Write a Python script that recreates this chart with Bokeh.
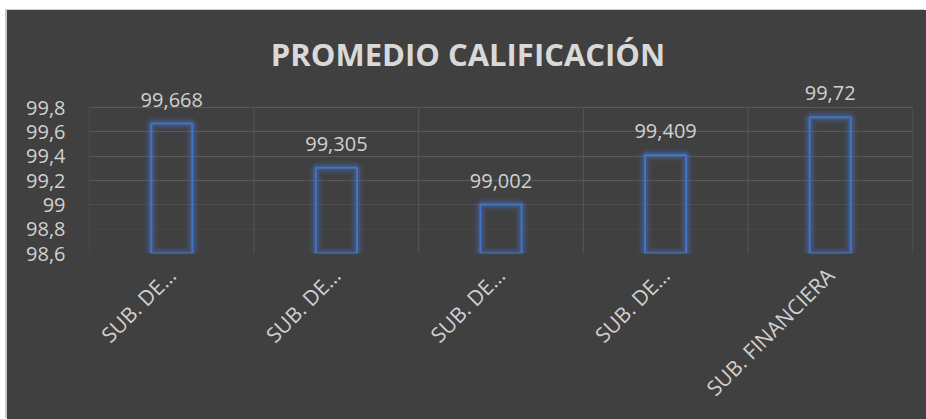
import numpy as np
from bokeh.plotting import figure
from bokeh.models import Range1d, FixedTicker, ColumnDataSource, LabelSet, Label, Grid
from bokeh.core.properties import value
from bokeh.embed import file_html
from bokeh.resources import INLINE

# ---- data ----
categories = ["SUB. DE…", "SUB. DE…", "SUB. DE…", "SUB. DE…", "SUB. FINANCIERA"]
values = [99.668, 99.305, 99.002, 99.409, 99.72]
value_labels = ["99,668", "99,305", "99,002", "99,409", "99,72"]
y_ticks = [98.6, 98.8, 99.0, 99.2, 99.4, 99.6, 99.8]
y_tick_labels = ["98,6", "98,8", "99", "99,2", "99,4", "99,6", "99,8"]
title_text = "PROMEDIO CALIFICACIÓN"

n = len(categories)
positions = list(range(1, n + 1))
y_min, y_max = y_ticks[0], y_ticks[-1]

BG = "#404040"
TXT = "#d0d0d0"
BLUE = "#4472c4"
FONT = "Open Sans"

# layout (pixels)
W, H = 919, 409
GRID_PX = 146          # height of the value grid (98.6 .. 99.8)
BORDER_BOTTOM = 166
frame_px = H - BORDER_BOTTOM
y_end = y_min + (y_max - y_min) * frame_px / GRID_PX

p = figure(width=W, height=H, output_backend="svg", toolbar_location=None,
           x_range=Range1d(0.5, n + 0.5), y_range=Range1d(y_min, y_end),
           min_border_left=82, min_border_right=14, min_border_top=0,
           min_border_bottom=BORDER_BOTTOM)
p.margin = (10, 0, 0, 7)
p.styles = {"box-shadow": "-2px -1px 0 #c8c8c8", "background-color": BG}
p.background_fill_color = BG
p.border_fill_color = BG
p.outline_line_color = None

# vertical grid lines between categories (only across the value grid)
bounds = [pos - 0.5 for pos in positions] + [n + 0.5]
p.segment(x0=bounds, x1=bounds, y0=[y_min] * len(bounds), y1=[y_max] * len(bounds),
          line_color="#575757", line_width=1)

src = ColumnDataSource(dict(x=positions, top=values, label=value_labels))

# glow layers
for lw, a in [(14, 0.08), (10, 0.14), (6, 0.25)]:
    p.vbar(x="x", top="top", bottom=y_min, width=0.25, source=src,
           fill_alpha=0, line_color=BLUE, line_alpha=a, line_width=lw)
p.vbar(x="x", top="top", bottom=y_min, width=0.25, source=src,
       fill_alpha=0, line_color=BLUE, line_width=2)

labels = LabelSet(x="x", y="top", text="label", source=src, text_align="center",
                  text_baseline="alphabetic", y_offset=17, text_color=TXT,
                  text_font=value(FONT), text_font_size="20px")
p.add_layout(labels)

# axes
p.xaxis.ticker = FixedTicker(ticks=positions)
p.xaxis.major_label_overrides = {pos: lab for pos, lab in zip(positions, categories)}
p.xaxis.major_label_orientation = np.pi / 4
p.xaxis.major_label_text_font = FONT
p.xaxis.major_label_text_font_size = "21px"
p.xaxis.major_label_text_color = TXT
p.xaxis.major_label_standoff = 12
p.xaxis.axis_line_color = None
p.xaxis.major_tick_line_color = None
p.xaxis.minor_tick_line_color = None

p.yaxis.ticker = FixedTicker(ticks=y_ticks)
p.yaxis.major_label_overrides = {t: lab for t, lab in zip(y_ticks, y_tick_labels)}
p.yaxis.major_label_text_font = FONT
p.yaxis.major_label_text_font_size = "20px"
p.yaxis.major_label_text_color = TXT
p.yaxis.major_label_standoff = 18
p.yaxis.axis_line_color = None
p.yaxis.major_tick_line_color = None
p.yaxis.minor_tick_line_color = None

# grids
p.xgrid.grid_line_color = None
p.ygrid.ticker = FixedTicker(ticks=y_ticks[3:])
p.ygrid.grid_line_color = "#595959"
g2 = Grid(dimension=1, ticker=FixedTicker(ticks=[y_ticks[2]]), grid_line_color="#4e4e4e")
g3 = Grid(dimension=1, ticker=FixedTicker(ticks=[y_ticks[1]]), grid_line_color="#464646")
p.add_layout(g2)
p.add_layout(g3)

title = Label(x=(n + 1) / 2, y=y_max, x_offset=-33, y_offset=54, text=title_text,
              text_align="center", text_baseline="alphabetic", text_color="#d9d9d9",
              text_font=FONT, text_font_style="bold", text_font_size="31px")
p.add_layout(title)

open("out.html", "w").write(file_html(p, INLINE))
